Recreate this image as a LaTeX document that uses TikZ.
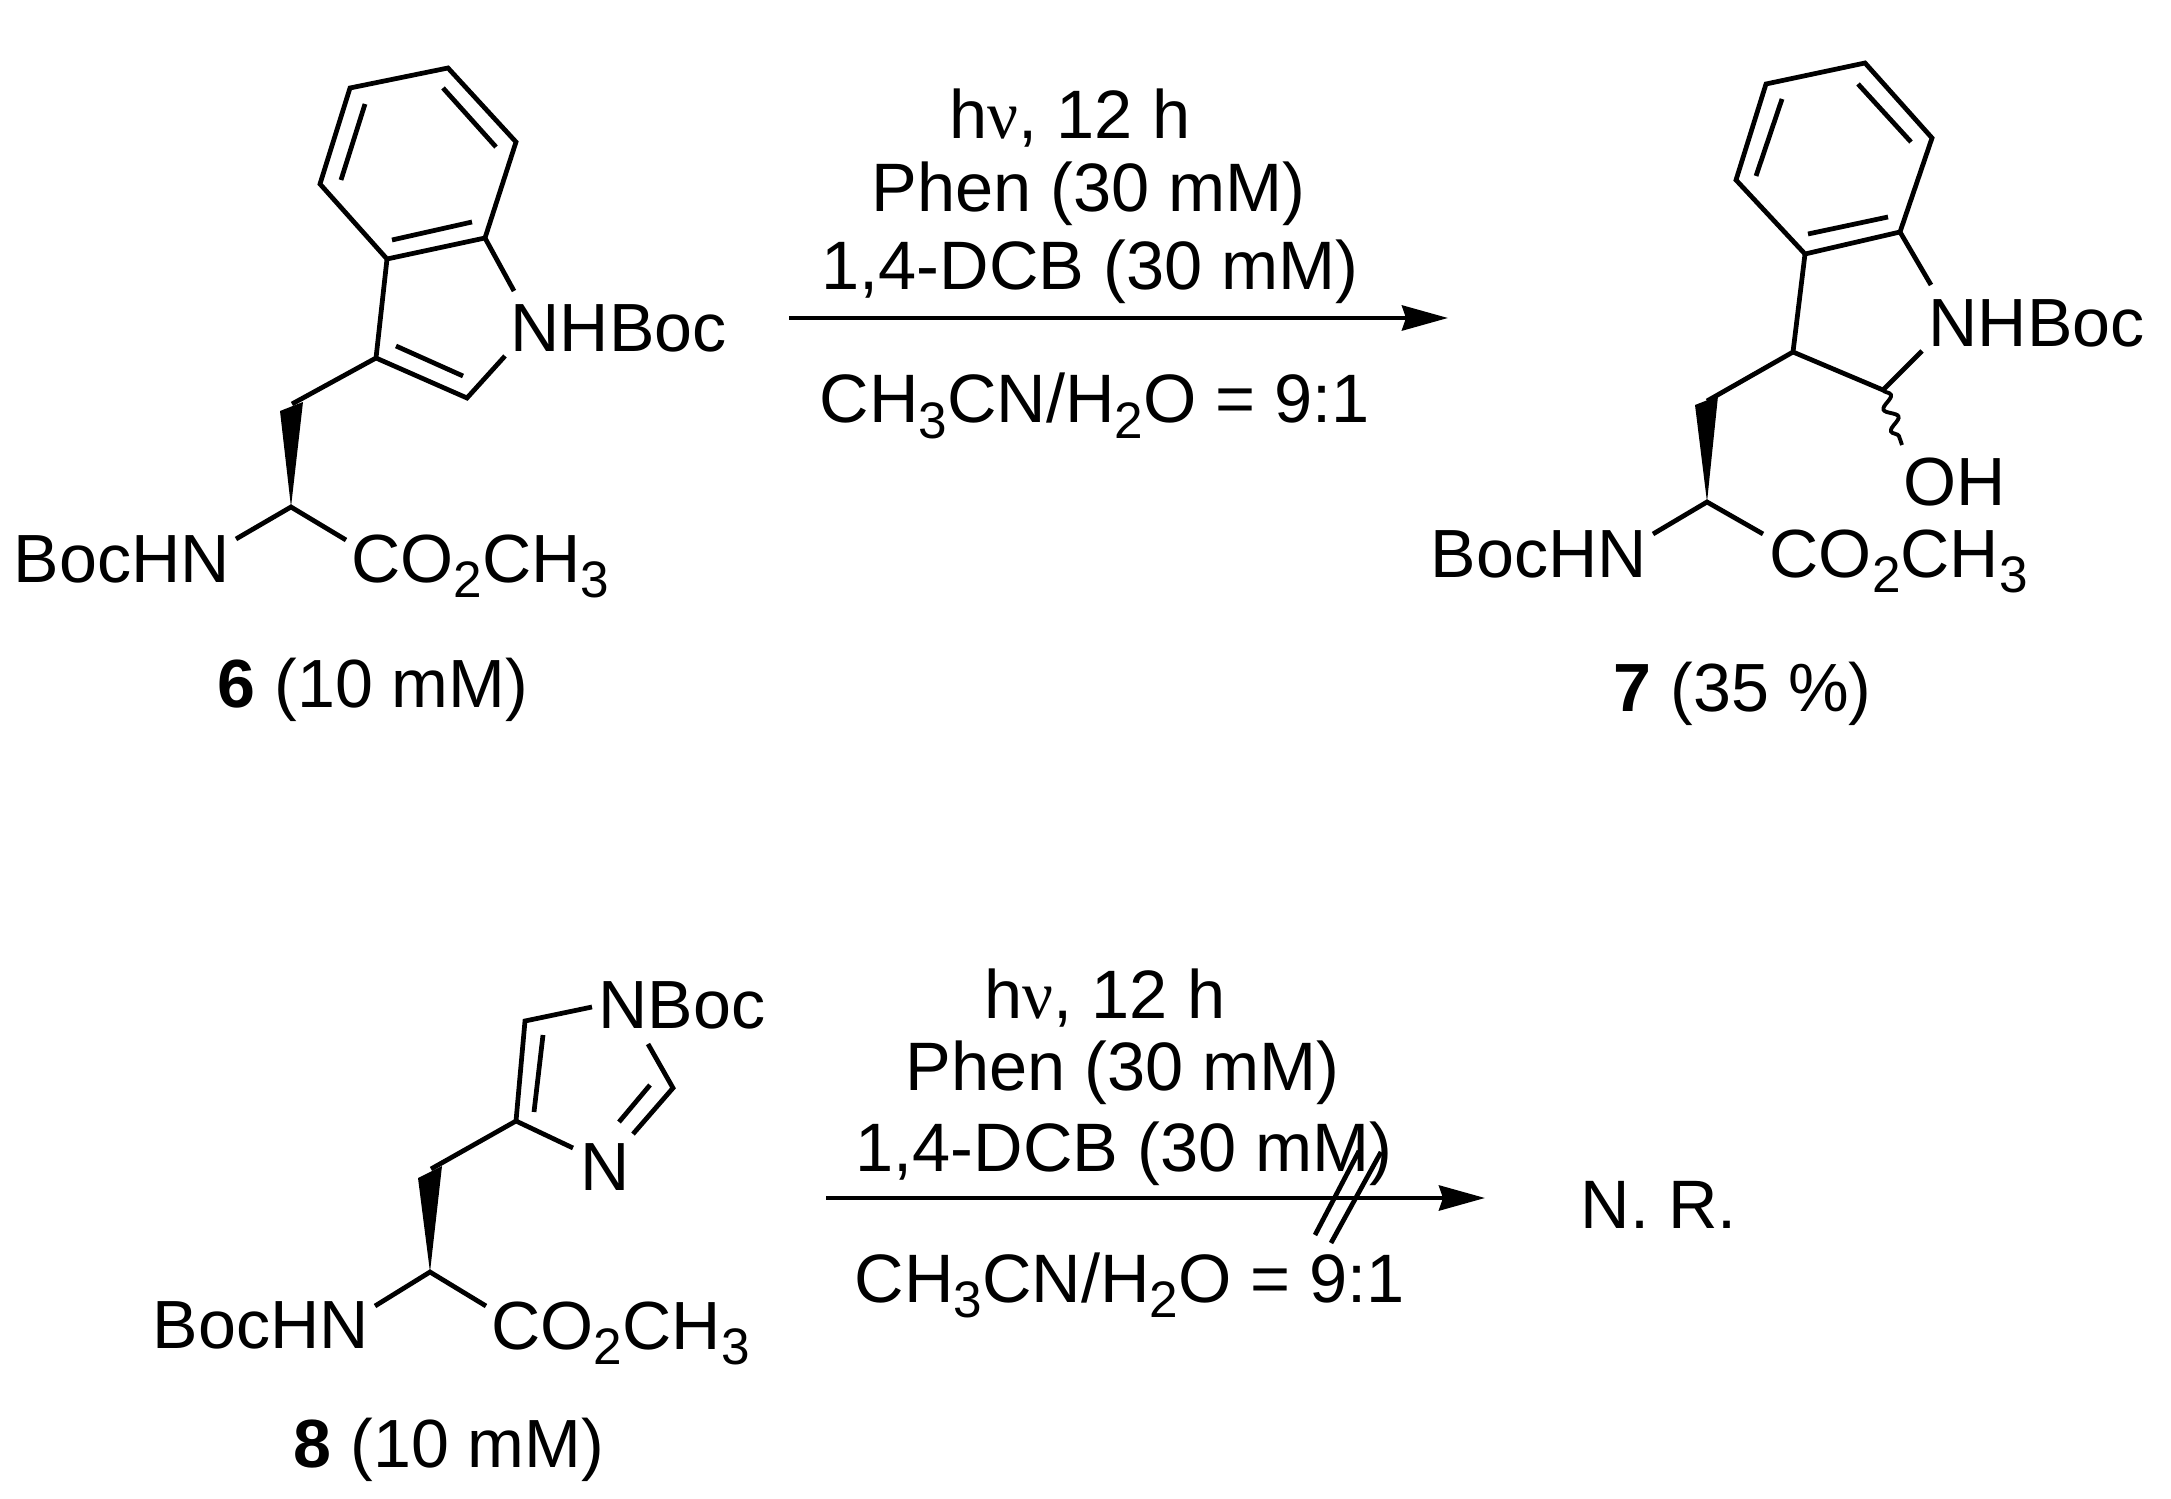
\documentclass[tikz,border=0pt]{standalone}
\usepackage{fontspec}
\setmainfont{Liberation Sans}
\newfontfamily\greekserif{Liberation Serif}
\usetikzlibrary{arrows.meta,decorations.pathmorphing}
\newcommand{\low}[1]{\raisebox{-0.22em}{\fontsize{14.6}{15}\selectfont #1}}
\tikzset{
  bond/.style={line width=1.35pt,line join=miter},
  atom/.style={anchor=base west,inner sep=0pt,font=\fontsize{19.4}{23}\selectfont},
  cond/.style={anchor=base west,inner sep=0pt,font=\fontsize{19.5}{23}\selectfont},
  rxn/.style={line width=1.3pt,-{Stealth[length=0.46cm,width=0.25cm,inset=0.04cm]}}
}
\begin{document}
\begin{tikzpicture}
      \useasboundingbox (0,0) rectangle (21.71,-14.99);
      % compound 6
      \coordinate (a6) at (4.48,-0.68);
      \coordinate (b6) at (3.50,-0.88);
      \coordinate (c6) at (3.20,-1.84);
      \coordinate (d6) at (3.87,-2.59);
      \coordinate (e6) at (4.85,-2.38);
      \coordinate (f6) at (5.16,-1.42);
      \coordinate (n6) at (5.14,-2.91);
      \coordinate (m6) at (5.05,-3.56);
      \coordinate (g6) at (3.76,-3.58);
      \coordinate (h6) at (4.67,-3.98);
      \coordinate (ch6) at (2.92,-4.04);
      \coordinate (wl6) at (2.80,-4.11);
      \coordinate (wr6) at (3.03,-4.02);
      \coordinate (ca6) at (2.91,-5.07);
      \coordinate (nb6) at (2.36,-5.39);
      \coordinate (co6) at (3.46,-5.40);
      \coordinate (i1a6) at (4.43,-0.88);
      \coordinate (i1b6) at (4.96,-1.47);
      \coordinate (i2a6) at (3.65,-1.04);
      \coordinate (i2b6) at (3.41,-1.80);
      \coordinate (i3a6) at (3.92,-2.40);
      \coordinate (i3b6) at (4.72,-2.22);
      \coordinate (i4a6) at (3.96,-3.46);
      \coordinate (i4b6) at (4.63,-3.76);
      \draw[bond] (a6) -- (b6) -- (c6) -- (d6) -- (e6) -- (f6) -- cycle;
      \draw[bond] (d6) -- (g6) -- (h6) -- (m6);
      \draw[bond] (e6) -- (n6);
      \draw[bond] (g6) -- (ch6);
      \draw[bond] (i1a6) -- (i1b6);
      \draw[bond] (i2a6) -- (i2b6);
      \draw[bond] (i3a6) -- (i3b6);
      \draw[bond] (i4a6) -- (i4b6);
      \fill (ca6) -- (wl6) -- (wr6) -- cycle;
      \draw[bond] (nb6) -- (ca6) -- (co6);
      \draw (5.10,-3.52) node[atom] (nhboc6) {NHBoc};
      \draw (0.13,-5.83) node[atom] (bochn6) {BocHN};
      \draw (3.51,-5.83) node[atom] (ester6) {CO\low{2}CH\low{3}};
      \draw (2.17,-7.08) node[atom] (name6) {\textbf{6} (10 mM)};
      % first reaction
      \coordinate (s1) at (7.89,-3.18);
      \coordinate (t1) at (14.48,-3.18);
      \draw[rxn] (s1) -- (t1);
      \draw (9.49,-1.39) node[cond] (hv1) {h{\greekserif ν}, 12 h};
      \draw (8.71,-2.12) node[cond] (phen1) {Phen (30 mM)};
      \draw (8.21,-2.90) node[cond] (dcb1) {1,4-DCB (30 mM)};
      \draw (8.19,-4.23) node[cond] (solv1) {CH\low{3}CN/H\low{2}O = 9:1};
      % compound 7
      \coordinate (a7) at (18.65,-0.63);
      \coordinate (b7) at (17.66,-0.84);
      \coordinate (c7) at (17.36,-1.80);
      \coordinate (d7) at (18.05,-2.54);
      \coordinate (e7) at (19.00,-2.32);
      \coordinate (f7) at (19.32,-1.38);
      \coordinate (n7) at (19.31,-2.85);
      \coordinate (m7) at (19.22,-3.51);
      \coordinate (g7) at (17.93,-3.52);
      \coordinate (h7) at (18.83,-3.90);
      \coordinate (w7) at (19.02,-4.45);
      \coordinate (ch7) at (17.07,-4.01);
      \coordinate (wl7) at (16.95,-4.05);
      \coordinate (wr7) at (17.18,-3.96);
      \coordinate (ca7) at (17.07,-5.02);
      \coordinate (nb7) at (16.53,-5.34);
      \coordinate (co7) at (17.63,-5.34);
      \coordinate (i1a7) at (18.58,-0.84);
      \coordinate (i1b7) at (19.11,-1.42);
      \coordinate (i2a7) at (17.82,-0.99);
      \coordinate (i2b7) at (17.56,-1.76);
      \coordinate (i3a7) at (18.08,-2.34);
      \coordinate (i3b7) at (18.88,-2.17);
      \draw[bond] (a7) -- (b7) -- (c7) -- (d7) -- (e7) -- (f7) -- cycle;
      \draw[bond] (d7) -- (g7) -- (h7) -- (m7);
      \draw[bond] (e7) -- (n7);
      \draw[bond] (g7) -- (ch7);
      \draw[bond] (i1a7) -- (i1b7);
      \draw[bond] (i2a7) -- (i2b7);
      \draw[bond] (i3a7) -- (i3b7);
      \draw[line width=1.1pt,decorate,decoration={snake,amplitude=0.06cm,segment length=0.23cm}] (h7) -- (w7);
      \fill (ca7) -- (wl7) -- (wr7) -- cycle;
      \draw[bond] (nb7) -- (ca7) -- (co7);
      \draw (19.28,-3.47) node[atom] (nhboc7) {NHBoc};
      \draw (19.03,-5.06) node[atom] (oh7) {OH};
      \draw (14.30,-5.78) node[atom] (bochn7) {BocHN};
      \draw (17.69,-5.78) node[atom] (ester7) {CO\low{2}CH\low{3}};
      \draw (16.13,-7.12) node[atom] (name7) {\textbf{7} (35 \%)};
      % compound 8
      \coordinate (c5) at (5.25,-10.21);
      \coordinate (n8) at (5.92,-10.07);
      \coordinate (c4) at (5.16,-11.21);
      \coordinate (m8) at (5.73,-11.48);
      \coordinate (c2) at (6.73,-10.88);
      \coordinate (nb8) at (6.48,-10.44);
      \coordinate (nd8) at (6.33,-11.34);
      \coordinate (ch8) at (4.31,-11.69);
      \coordinate (wl8) at (4.18,-11.78);
      \coordinate (wr8) at (4.42,-11.66);
      \coordinate (ca8) at (4.30,-12.72);
      \coordinate (nc8) at (3.75,-13.06);
      \coordinate (co8) at (4.86,-13.06);
      \coordinate (i1a8) at (5.43,-10.35);
      \coordinate (i1b8) at (5.34,-11.12);
      \coordinate (i2a8) at (6.50,-10.85);
      \coordinate (i2b8) at (6.19,-11.22);
      \draw[bond] (n8) -- (c5) -- (c4) -- (m8);
      \draw[bond] (nb8) -- (c2) -- (nd8);
      \draw[bond] (c4) -- (ch8);
      \draw[bond] (i1a8) -- (i1b8);
      \draw[bond] (i2a8) -- (i2b8);
      \fill (ca8) -- (wl8) -- (wr8) -- cycle;
      \draw[bond] (nc8) -- (ca8) -- (co8);
      \draw (5.98,-10.28) node[atom] (nboc8) {NBoc};
      \draw (5.80,-11.90) node[atom] (n3a8) {N};
      \draw (1.52,-13.48) node[atom] (bochn8) {BocHN};
      \draw (4.91,-13.49) node[atom] (ester8) {CO\low{2}CH\low{3}};
      \draw (2.93,-14.67) node[atom] (name8) {\textbf{8} (10 mM)};
      % second reaction
      \coordinate (s2) at (8.26,-11.98);
      \coordinate (t2) at (14.85,-11.98);
      \draw[rxn] (s2) -- (t2);
      \coordinate (u1) at (13.59,-11.51);
      \coordinate (v1) at (13.15,-12.35);
      \coordinate (u2) at (13.81,-11.52);
      \coordinate (v2) at (13.31,-12.43);
      \draw[bond] (u1) -- (v1);
      \draw[bond] (u2) -- (v2);
      \draw (9.84,-10.18) node[cond] (hv2) {h{\greekserif ν}, 12 h};
      \draw (9.05,-10.90) node[cond] (phen2) {Phen (30 mM)};
      \draw (8.55,-11.71) node[cond] (dcb2) {1,4-DCB (30 mM)};
      \draw (8.54,-13.02) node[cond] (solv2) {CH\low{3}CN/H\low{2}O = 9:1};
      \draw (15.80,-12.28) node[cond] (nr) {N. R.};
    \end{tikzpicture}
\end{document}
